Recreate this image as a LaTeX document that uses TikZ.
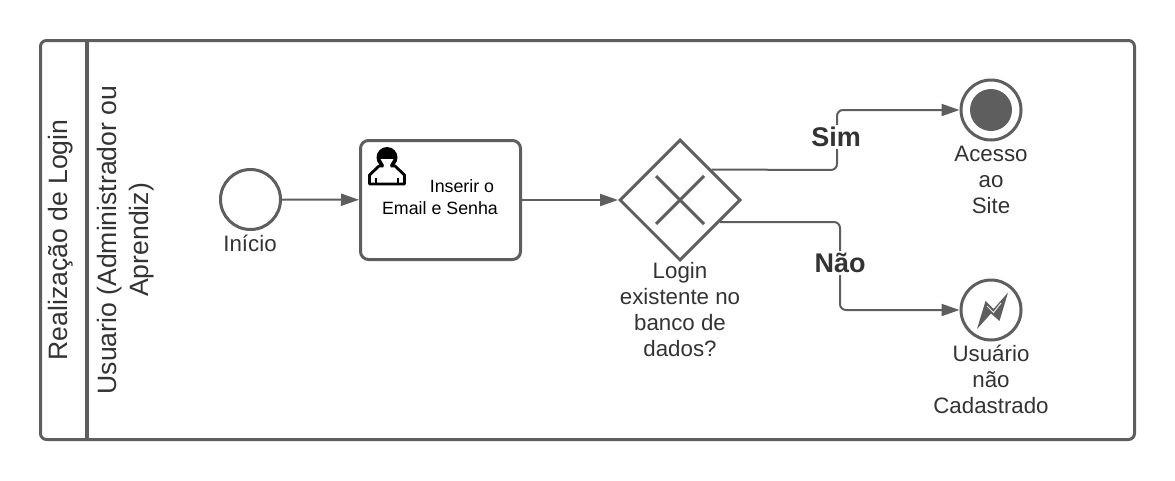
\documentclass[tikz,border=0pt]{standalone}
\usepackage{fontspec}
\setmainfont{Liberation Sans}
\usetikzlibrary{arrows.meta,shapes.geometric}
\definecolor{ln}{HTML}{5E5E5E}
\definecolor{tx}{HTML}{333333}
\tikzset{
  lane/.style={draw=ln,line width=3pt,rounded corners=6pt,fill=white},
  flow/.style={draw=ln,line width=2pt,rounded corners=6pt,-{Triangle[length=18pt,width=12pt,fill=ln]}},
  event/.style={circle,draw=ln,line width=3pt,fill=white,minimum size=60pt,inner sep=0pt},
  lbl/.style={text=tx,font=\fontsize{22.3}{26}\selectfont,align=center,inner sep=0pt},
  blbl/.style={text=tx,font=\fontsize{27}{30}\selectfont\bfseries,fill=white,inner sep=2pt},
  lanelbl/.style={text=tx,font=\fontsize{26.6}{32}\selectfont,align=center,rotate=90,inner sep=0pt},
  tasktx/.style={text=black,font=\fontsize{17.8}{17.8}\selectfont,inner sep=0pt},
}
\begin{document}
\begin{tikzpicture}[x=1pt,y=-1pt]
\useasboundingbox (0,0) rectangle (1175,480);
\path[lane] (40.5,40.5) rectangle (1134.5,439.5);
\draw[ln,line width=3.5pt] (87,40) -- (87,440);
\node[lanelbl] (pool) at (61,240) {Realização de Login};
\node[lanelbl] (usr) at (126,240) {Usuario (Administrador ou\\Aprendiz)};
\node[event] (start) at (250.5,199.5) {};
\node[lbl,anchor=center] (startl) at (250,243) {Início};
\node[draw=ln,line width=3pt,fill=white,rounded corners=8pt,minimum width=160pt,minimum height=119pt,inner sep=0pt] (task) at (440.5,200) {};
\node[tasktx] (t1) at (462,186.5) {Inserir o};
\node[tasktx] (t2) at (440,208.5) {Email e Senha};
% user icon
\draw[black,line width=2.8pt,fill=white,line join=round] (369.5,184) -- (369.5,175) -- (379,166) -- (395,166) -- (404.5,175) -- (404.5,184) -- cycle;
\draw[black,line width=2pt] (376,184) -- (376,178) (398,184) -- (398,178);
\fill[black] (387,157.5) circle[radius=10.5];
\fill[white] (380.5,159) -- (393.5,159) -- (390,165) -- (392,172) -- (382,172) -- (384,165) -- cycle;
\node[diamond,draw=ln,line width=3pt,fill=white,minimum width=121pt,minimum height=121pt,aspect=1,inner sep=0pt] (gw) at (680,200) {};
\draw[ln,line width=3pt] (656,176) -- (704,224) (704,176) -- (656,224);
\node[lbl] (gwl) at (680,310) {Login\\existente no\\banco de\\dados?};
\node[event] (ok) at (991,110) {};
\fill[ln] (ok.center) circle[radius=21];
\node[lbl] (okl) at (991,179.5) {Acesso\\ao\\Site};
\node[event] (err) at (991,310) {};
\fill[ln] (985.5,301) -- (993.5,309) -- (1008,292.5) -- (999.5,321) -- (991,313.5) -- (977,329) -- cycle;
\draw[white!85!ln,line width=1pt] (987,306) -- (993.5,312.5) -- (1001,303);
\node[lbl] (errl) at (991,379.5) {Usuário\\não\\Cadastrado};
\draw[flow] (start) -- (task);
\draw[flow] (task) -- (gw);
\draw[flow] (gw.44) -- (837,170) -- (837,110) -- (ok);
\draw[flow] (gw.-29) -- (840,222) -- (840,310) -- (err);
\node[blbl] (sim) at (836,137) {Sim};
\node[blbl] (nao) at (840,263) {Não};
\end{tikzpicture}
\end{document}
